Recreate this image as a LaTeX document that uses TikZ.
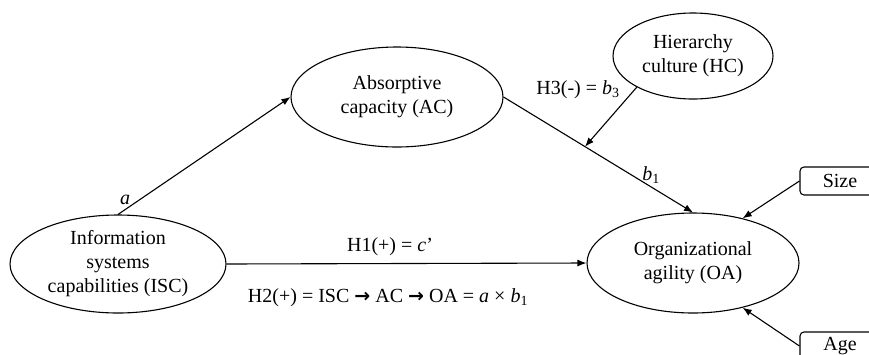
\documentclass[tikz,border=0pt]{standalone}
\usepackage{fontspec}
\setmainfont{Liberation Serif}
\newfontfamily\arrowfont{DejaVu Sans}
\usetikzlibrary{arrows.meta,shapes.geometric}
\tikzset{
  construct/.style={draw, ellipse, line width=1.1pt, inner sep=0pt, align=center, font=\fontsize{20}{24}\selectfont},
  ctrlbox/.style={draw, rectangle, rounded corners=4pt, line width=1.1pt, minimum width=80pt, minimum height=28pt, inner sep=0pt, font=\fontsize{20}{24}\selectfont},
  conn/.style={line width=1.1pt, -{Latex[length=9pt,width=7pt]}},
  lbl/.style={font=\fontsize{20}{24}\selectfont, inner sep=1pt},
}
\begin{document}
\begin{tikzpicture}[x=1pt,y=-1pt]
\useasboundingbox (0,0) rectangle (869,354);
\clip (0,0) rectangle (869,354);

\node[construct, minimum width=216pt, minimum height=98pt] (ISC) at (118,264) {Information\\systems\\capabilities (ISC)};
\node[construct, minimum width=212pt, minimum height=100pt] (AC) at (397,97) {Absorptive\\capacity (AC)};
\node[construct, minimum width=160pt, minimum height=86pt] (HC) at (693,56) {Hierarchy\\culture (HC)};
\node[construct, minimum width=212pt, minimum height=100pt] (OA) at (693,263) {Organizational\\agility (OA)};
\node[ctrlbox] (Size) at (840,181) {Size};
\node[ctrlbox] (Age) at (840,346) {Age};

\draw[conn] (ISC.north) -- (AC.west);
\draw[conn] (ISC.east) -- (OA.west);
\draw[conn] (AC.east) -- coordinate[pos=0.43] (mod) (OA.north);
\draw[conn] (HC.209) -- (mod);
\draw[conn] (Size.west) -- (OA.42);
\draw[conn] (Age.west) -- (OA.-42);

\node[lbl] (la) at (125,200) {\textit{a}};
\node[lbl] (lh1) at (390,247) {H1(+) = \textit{c}’};
\node[lbl] (lh2) at (388,298) {H2(+) = ISC {\arrowfont\bfseries\fontsize{19}{20}\selectfont →} AC {\arrowfont\bfseries\fontsize{19}{20}\selectfont →} OA = \textit{a} × \textit{b}\textsubscript{1}};
\node[lbl] (lh3) at (578,90) {H3(-) = \textit{b}\textsubscript{3}};
\node[lbl] (lb1) at (651,175) {\textit{b}\textsubscript{1}};
\end{tikzpicture}
\end{document}
